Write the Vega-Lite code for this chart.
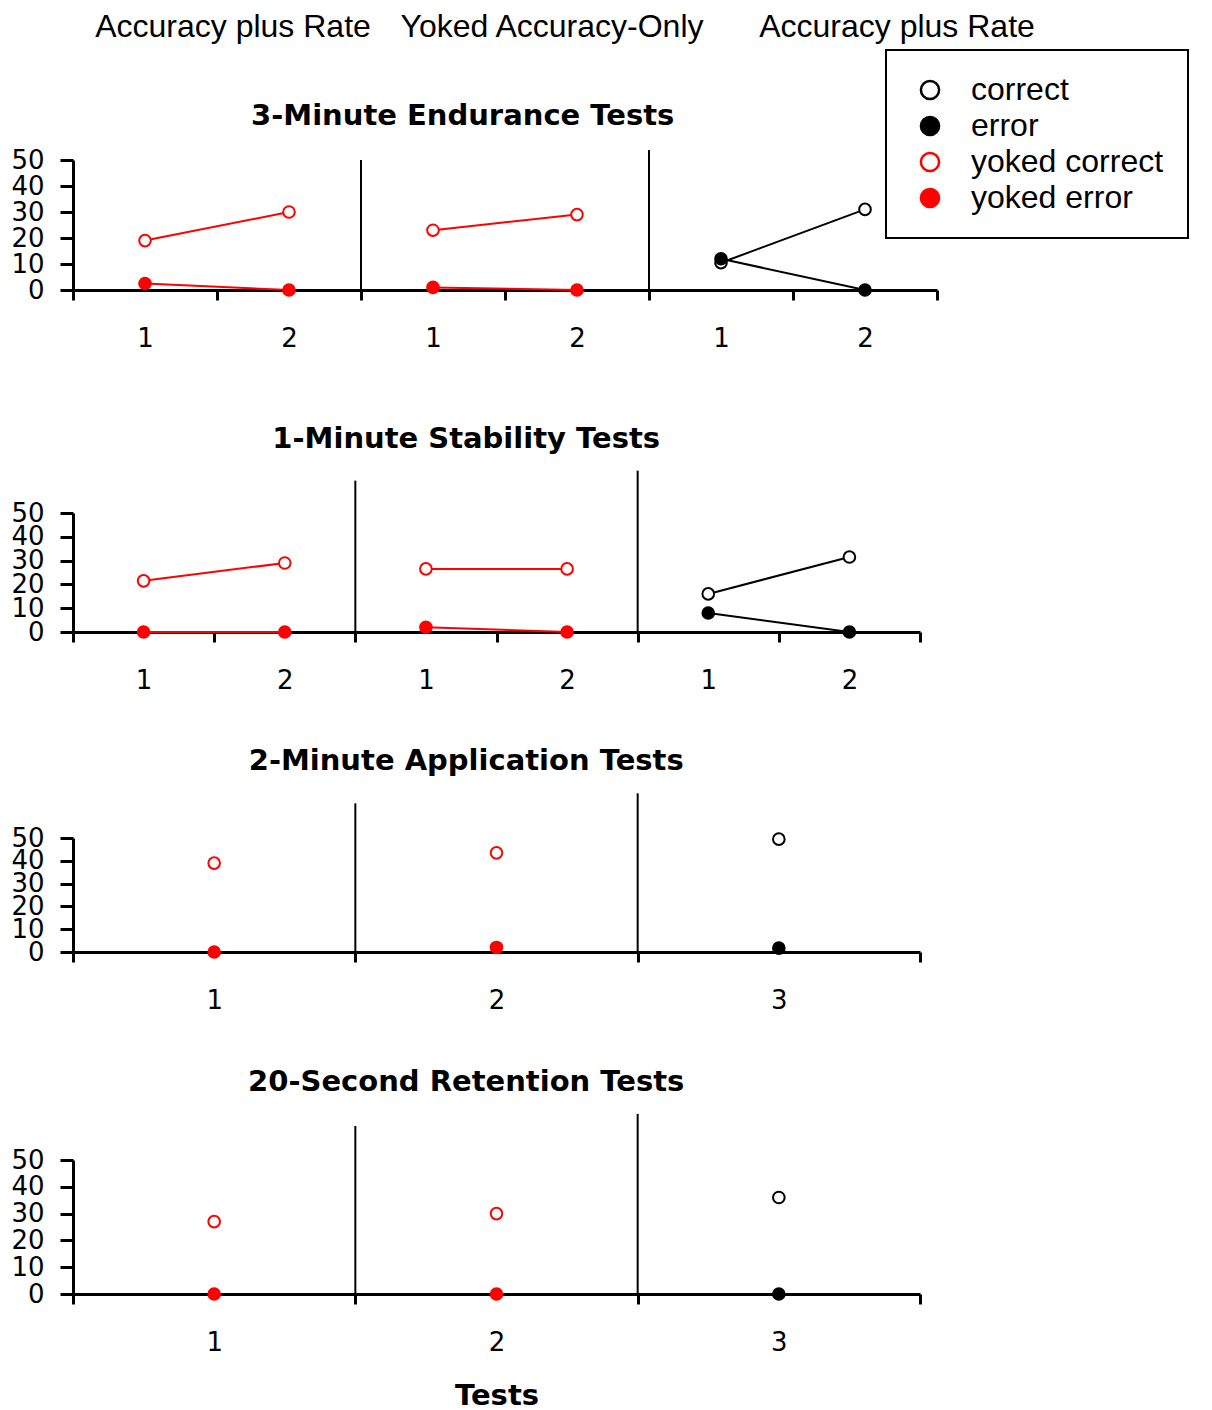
{
  "$schema": "https://vega.github.io/schema/vega-lite/v6.json",
  "background": "white",
  "padding": {"left": 10, "top": 11, "right": 5, "bottom": 0},
  "datasets": {
    "headers": [
      {"phase": "A", "label": "Accuracy plus Rate"},
      {"phase": "B", "label": "Yoked Accuracy-Only"},
      {"phase": "C", "label": "Accuracy plus Rate"}
    ],
    "phaselines": [
      {"panel": "E", "key": "B1", "top": 50},
      {"panel": "E", "key": "C1", "top": 53.8},
      {"panel": "S", "key": "B1", "top": 63.6},
      {"panel": "S", "key": "C1", "top": 67.8},
      {"panel": "P", "key": "B2", "top": 65.2},
      {"panel": "P", "key": "C3", "top": 69.6},
      {"panel": "R", "key": "B2", "top": 62.7},
      {"panel": "R", "key": "C3", "top": 67.2}
    ],
    "points": [
      {"panel": "E", "key": "A1", "phase": "A", "series": "yoked correct", "value": 19},
      {"panel": "E", "key": "A2", "phase": "A", "series": "yoked correct", "value": 30},
      {"panel": "E", "key": "B1", "phase": "B", "series": "yoked correct", "value": 23},
      {"panel": "E", "key": "B2", "phase": "B", "series": "yoked correct", "value": 29},
      {"panel": "E", "key": "C1", "phase": "C", "series": "correct", "value": 10.5},
      {"panel": "E", "key": "C2", "phase": "C", "series": "correct", "value": 31},
      {"panel": "E", "key": "A1", "phase": "A", "series": "yoked error", "value": 2.5},
      {"panel": "E", "key": "A2", "phase": "A", "series": "yoked error", "value": 0},
      {"panel": "E", "key": "B1", "phase": "B", "series": "yoked error", "value": 1},
      {"panel": "E", "key": "B2", "phase": "B", "series": "yoked error", "value": 0},
      {"panel": "E", "key": "C1", "phase": "C", "series": "error", "value": 12},
      {"panel": "E", "key": "C2", "phase": "C", "series": "error", "value": 0},

      {"panel": "S", "key": "A1", "phase": "A", "series": "yoked correct", "value": 21.5},
      {"panel": "S", "key": "A2", "phase": "A", "series": "yoked correct", "value": 29},
      {"panel": "S", "key": "B1", "phase": "B", "series": "yoked correct", "value": 26.5},
      {"panel": "S", "key": "B2", "phase": "B", "series": "yoked correct", "value": 26.5},
      {"panel": "S", "key": "C1", "phase": "C", "series": "correct", "value": 16},
      {"panel": "S", "key": "C2", "phase": "C", "series": "correct", "value": 31.5},
      {"panel": "S", "key": "A1", "phase": "A", "series": "yoked error", "value": 0},
      {"panel": "S", "key": "A2", "phase": "A", "series": "yoked error", "value": 0},
      {"panel": "S", "key": "B1", "phase": "B", "series": "yoked error", "value": 2},
      {"panel": "S", "key": "B2", "phase": "B", "series": "yoked error", "value": 0},
      {"panel": "S", "key": "C1", "phase": "C", "series": "error", "value": 8},
      {"panel": "S", "key": "C2", "phase": "C", "series": "error", "value": 0},

      {"panel": "P", "key": "A1", "phase": "A", "series": "yoked correct", "value": 39},
      {"panel": "P", "key": "B2", "phase": "B", "series": "yoked correct", "value": 43.5},
      {"panel": "P", "key": "C3", "phase": "C", "series": "correct", "value": 49.5},
      {"panel": "P", "key": "A1", "phase": "A", "series": "yoked error", "value": 0},
      {"panel": "P", "key": "B2", "phase": "B", "series": "yoked error", "value": 2},
      {"panel": "P", "key": "C3", "phase": "C", "series": "error", "value": 1.7},

      {"panel": "R", "key": "A1", "phase": "A", "series": "yoked correct", "value": 27},
      {"panel": "R", "key": "B2", "phase": "B", "series": "yoked correct", "value": 30},
      {"panel": "R", "key": "C3", "phase": "C", "series": "correct", "value": 36},
      {"panel": "R", "key": "A1", "phase": "A", "series": "yoked error", "value": 0},
      {"panel": "R", "key": "B2", "phase": "B", "series": "yoked error", "value": 0},
      {"panel": "R", "key": "C3", "phase": "C", "series": "error", "value": 0}
    ]
  },
  "spacing": 73,
  "resolve": {"scale": {"fill": "shared", "stroke": "shared", "color": "shared"}, "legend": {"fill": "shared", "stroke": "shared"}},
  "vconcat": [
    {
      "spacing": 59,
      "resolve": {"scale": {"fill": "shared", "stroke": "shared", "color": "shared"}, "legend": {"fill": "shared", "stroke": "shared"}},
      "vconcat": [
        {
          "width": 864,
          "height": 32,
          "data": {"name": "headers"},
          "encoding": {
            "x": {"field": "phase", "type": "nominal", "scale": {"type": "band", "domain": ["A", "B", "C"], "paddingInner": 0, "paddingOuter": 0}, "axis": null},
            "text": {"field": "label"}
          },
          "layer": [
            {"transform": [{"filter": "datum.phase === 'A'"}], "mark": {"type": "text", "font": "Liberation Sans", "fontSize": 32, "color": "black", "align": "center", "baseline": "middle", "dx": 16}},
            {"transform": [{"filter": "datum.phase === 'B'"}], "mark": {"type": "text", "font": "Liberation Sans", "fontSize": 32, "color": "black", "align": "center", "baseline": "middle", "dx": 47}},
            {"transform": [{"filter": "datum.phase === 'C'"}], "mark": {"type": "text", "font": "Liberation Sans", "fontSize": 32, "color": "black", "align": "center", "baseline": "middle", "dx": 104}}
          ]
        },
        {
          "width": 864,
          "height": 130,
          "title": {"text": "3-Minute Endurance Tests", "dx": -12},
          "layer": [
            {
              "data": {"name": "phaselines"},
              "transform": [{"filter": "datum.panel === 'E'"}],
              "mark": {"type": "rule", "color": "black", "strokeWidth": 2},
              "encoding": {
                "x": {"field": "key", "type": "nominal", "bandPosition": 0, "title": null, "scale": {"type": "band", "domain": ["A1", "A2", "B1", "B2", "C1", "C2"], "paddingInner": 0, "paddingOuter": 0}, "axis": {"labelExpr": "isString(datum.value) ? substring(datum.value, 1) : ''"}},
                "y": {"field": "top", "type": "quantitative", "title": null, "scale": {"domain": [0, 50], "nice": false}, "axis": {"values": [0, 10, 20, 30, 40, 50]}},
                "y2": {"datum": 0}
              }
            },
            {
              "data": {"name": "points"},
              "transform": [{"filter": "datum.panel === 'E'"}],
              "mark": {"type": "line", "strokeWidth": 2},
              "encoding": {
                "x": {"field": "key", "type": "nominal", "title": null, "scale": {"type": "band", "domain": ["A1", "A2", "B1", "B2", "C1", "C2"], "paddingInner": 0, "paddingOuter": 0}, "axis": {"labelExpr": "isString(datum.value) ? substring(datum.value, 1) : ''"}},
                "y": {"field": "value", "type": "quantitative", "title": null, "scale": {"domain": [0, 50], "nice": false}, "axis": {"values": [0, 10, 20, 30, 40, 50]}},
                "color": {"field": "series", "type": "nominal", "legend": null, "scale": {"domain": ["yoked correct", "yoked error", "correct", "error"], "range": ["#ff0000", "#ff0000", "black", "black"]}},
                "detail": {"field": "phase"}
              }
            },
            {
              "data": {"name": "points"},
              "transform": [{"filter": "datum.panel === 'E'"}],
              "mark": {"type": "point", "shape": "circle", "filled": true, "size": 135, "strokeWidth": 2, "opacity": 1},
              "encoding": {
                "x": {"field": "key", "type": "nominal", "title": null, "scale": {"type": "band", "domain": ["A1", "A2", "B1", "B2", "C1", "C2"], "paddingInner": 0, "paddingOuter": 0}, "axis": {"labelExpr": "isString(datum.value) ? substring(datum.value, 1) : ''"}},
                "y": {"field": "value", "type": "quantitative", "title": null, "scale": {"domain": [0, 50], "nice": false}, "axis": {"values": [0, 10, 20, 30, 40, 50]}},
                "fill": {"field": "series", "type": "nominal", "title": null, "scale": {"domain": ["correct", "error", "yoked correct", "yoked error"], "range": ["white", "black", "white", "#ff0000"]}, "legend": {"orient": "none", "legendX": 813, "legendY": 39}},
                "stroke": {"field": "series", "type": "nominal", "title": null, "scale": {"domain": ["correct", "error", "yoked correct", "yoked error"], "range": ["black", "black", "#ff0000", "#ff0000"]}, "legend": {"orient": "none", "legendX": 813, "legendY": 39}}
              }
            }
          ]
        }
      ]
    },
    {
      "spacing": 54,
      "resolve": {"scale": {"fill": "shared", "stroke": "shared", "color": "shared"}, "legend": {"fill": "shared", "stroke": "shared"}},
      "vconcat": [
        {
          "width": 847,
          "height": 119,
          "title": {"text": "1-Minute Stability Tests"},
          "layer": [
            {
              "data": {"name": "phaselines"},
              "transform": [{"filter": "datum.panel === 'S'"}],
              "mark": {"type": "rule", "color": "black", "strokeWidth": 2},
              "encoding": {
                "x": {"field": "key", "type": "nominal", "bandPosition": 0, "title": null, "scale": {"type": "band", "domain": ["A1", "A2", "B1", "B2", "C1", "C2"], "paddingInner": 0, "paddingOuter": 0}, "axis": {"labelExpr": "isString(datum.value) ? substring(datum.value, 1) : ''"}},
                "y": {"field": "top", "type": "quantitative", "title": null, "scale": {"domain": [0, 50], "nice": false}, "axis": {"values": [0, 10, 20, 30, 40, 50]}},
                "y2": {"datum": 0}
              }
            },
            {
              "data": {"name": "points"},
              "transform": [{"filter": "datum.panel === 'S'"}],
              "mark": {"type": "line", "strokeWidth": 2},
              "encoding": {
                "x": {"field": "key", "type": "nominal", "title": null, "scale": {"type": "band", "domain": ["A1", "A2", "B1", "B2", "C1", "C2"], "paddingInner": 0, "paddingOuter": 0}, "axis": {"labelExpr": "isString(datum.value) ? substring(datum.value, 1) : ''"}},
                "y": {"field": "value", "type": "quantitative", "title": null, "scale": {"domain": [0, 50], "nice": false}, "axis": {"values": [0, 10, 20, 30, 40, 50]}},
                "color": {"field": "series", "type": "nominal", "legend": null, "scale": {"domain": ["yoked correct", "yoked error", "correct", "error"], "range": ["#ff0000", "#ff0000", "black", "black"]}},
                "detail": {"field": "phase"}
              }
            },
            {
              "data": {"name": "points"},
              "transform": [{"filter": "datum.panel === 'S'"}],
              "mark": {"type": "point", "shape": "circle", "filled": true, "size": 135, "strokeWidth": 2, "opacity": 1},
              "encoding": {
                "x": {"field": "key", "type": "nominal", "title": null, "scale": {"type": "band", "domain": ["A1", "A2", "B1", "B2", "C1", "C2"], "paddingInner": 0, "paddingOuter": 0}, "axis": {"labelExpr": "isString(datum.value) ? substring(datum.value, 1) : ''"}},
                "y": {"field": "value", "type": "quantitative", "title": null, "scale": {"domain": [0, 50], "nice": false}, "axis": {"values": [0, 10, 20, 30, 40, 50]}},
                "fill": {"field": "series", "type": "nominal", "title": null, "scale": {"domain": ["correct", "error", "yoked correct", "yoked error"], "range": ["white", "black", "white", "#ff0000"]}, "legend": {"orient": "none", "legendX": 813, "legendY": 39}},
                "stroke": {"field": "series", "type": "nominal", "title": null, "scale": {"domain": ["correct", "error", "yoked correct", "yoked error"], "range": ["black", "black", "#ff0000", "#ff0000"]}, "legend": {"orient": "none", "legendX": 813, "legendY": 39}}
              }
            }
          ]
        },
        {
          "width": 847,
          "height": 114,
          "title": {"text": "2-Minute Application Tests"},
          "layer": [
            {
              "data": {"name": "phaselines"},
              "transform": [{"filter": "datum.panel === 'P'"}],
              "mark": {"type": "rule", "color": "black", "strokeWidth": 2},
              "encoding": {
                "x": {"field": "key", "type": "nominal", "bandPosition": 0, "title": null, "scale": {"type": "band", "domain": ["A1", "B2", "C3"], "paddingInner": 0, "paddingOuter": 0}, "axis": {"labelExpr": "isString(datum.value) ? substring(datum.value, 1) : ''"}},
                "y": {"field": "top", "type": "quantitative", "title": null, "scale": {"domain": [0, 50], "nice": false}, "axis": {"values": [0, 10, 20, 30, 40, 50]}},
                "y2": {"datum": 0}
              }
            },
            {
              "data": {"name": "points"},
              "transform": [{"filter": "datum.panel === 'P'"}],
              "mark": {"type": "point", "shape": "circle", "filled": true, "size": 135, "strokeWidth": 2, "opacity": 1},
              "encoding": {
                "x": {"field": "key", "type": "nominal", "title": null, "scale": {"type": "band", "domain": ["A1", "B2", "C3"], "paddingInner": 0, "paddingOuter": 0}, "axis": {"labelExpr": "isString(datum.value) ? substring(datum.value, 1) : ''"}},
                "y": {"field": "value", "type": "quantitative", "title": null, "scale": {"domain": [0, 50], "nice": false}, "axis": {"values": [0, 10, 20, 30, 40, 50]}},
                "fill": {"field": "series", "type": "nominal", "title": null, "scale": {"domain": ["correct", "error", "yoked correct", "yoked error"], "range": ["white", "black", "white", "#ff0000"]}, "legend": {"orient": "none", "legendX": 813, "legendY": 39}},
                "stroke": {"field": "series", "type": "nominal", "title": null, "scale": {"domain": ["correct", "error", "yoked correct", "yoked error"], "range": ["black", "black", "#ff0000", "#ff0000"]}, "legend": {"orient": "none", "legendX": 813, "legendY": 39}}
              }
            }
          ]
        },
        {
          "width": 847,
          "height": 134,
          "title": {"text": "20-Second Retention Tests"},
          "layer": [
            {
              "data": {"name": "phaselines"},
              "transform": [{"filter": "datum.panel === 'R'"}],
              "mark": {"type": "rule", "color": "black", "strokeWidth": 2},
              "encoding": {
                "x": {"field": "key", "type": "nominal", "bandPosition": 0, "title": "Tests", "scale": {"type": "band", "domain": ["A1", "B2", "C3"], "paddingInner": 0, "paddingOuter": 0}, "axis": {"labelExpr": "isString(datum.value) ? substring(datum.value, 1) : ''"}},
                "y": {"field": "top", "type": "quantitative", "title": null, "scale": {"domain": [0, 50], "nice": false}, "axis": {"values": [0, 10, 20, 30, 40, 50]}},
                "y2": {"datum": 0}
              }
            },
            {
              "data": {"name": "points"},
              "transform": [{"filter": "datum.panel === 'R'"}],
              "mark": {"type": "point", "shape": "circle", "filled": true, "size": 135, "strokeWidth": 2, "opacity": 1},
              "encoding": {
                "x": {"field": "key", "type": "nominal", "title": "Tests", "scale": {"type": "band", "domain": ["A1", "B2", "C3"], "paddingInner": 0, "paddingOuter": 0}, "axis": {"labelExpr": "isString(datum.value) ? substring(datum.value, 1) : ''"}},
                "y": {"field": "value", "type": "quantitative", "title": null, "scale": {"domain": [0, 50], "nice": false}, "axis": {"values": [0, 10, 20, 30, 40, 50]}},
                "fill": {"field": "series", "type": "nominal", "title": null, "scale": {"domain": ["correct", "error", "yoked correct", "yoked error"], "range": ["white", "black", "white", "#ff0000"]}, "legend": {"orient": "none", "legendX": 813, "legendY": 39}},
                "stroke": {"field": "series", "type": "nominal", "title": null, "scale": {"domain": ["correct", "error", "yoked correct", "yoked error"], "range": ["black", "black", "#ff0000", "#ff0000"]}, "legend": {"orient": "none", "legendX": 813, "legendY": 39}}
              }
            }
          ]
        }
      ]
    }
  ],
  "config": {
    "view": {"stroke": null},
    "font": "DejaVu Sans",
    "title": {"font": "DejaVu Sans", "fontSize": 29, "fontWeight": "bold", "color": "black", "baseline": "alphabetic", "offset": 16, "frame": "bounds", "anchor": "middle"},
    "axis": {"grid": false, "domainColor": "black", "domainWidth": 3, "tickColor": "black", "tickWidth": 3, "labelFont": "DejaVu Sans", "labelFontSize": 26, "labelColor": "black", "titleFont": "DejaVu Sans", "titleFontSize": 29, "titleFontWeight": "bold", "titleColor": "black", "labelOverlap": false, "labelFlush": false, "labelBound": false},
    "axisX": {"tickSize": 10, "labelPadding": 25, "labelAngle": 0, "tickBand": "extent", "titlePadding": 26},
    "axisY": {"tickSize": 13, "labelPadding": 16},
    "legend": {"labelFont": "Liberation Sans", "labelFontSize": 32, "labelColor": "black", "symbolSize": 330, "symbolStrokeWidth": 2.5, "symbolType": "circle", "symbolOffset": 4, "rowPadding": 4, "padding": 24, "strokeColor": "black", "strokeWidth": 2, "labelOffset": 25, "fillColor": "white", "labelLimit": 400}
  }
}
